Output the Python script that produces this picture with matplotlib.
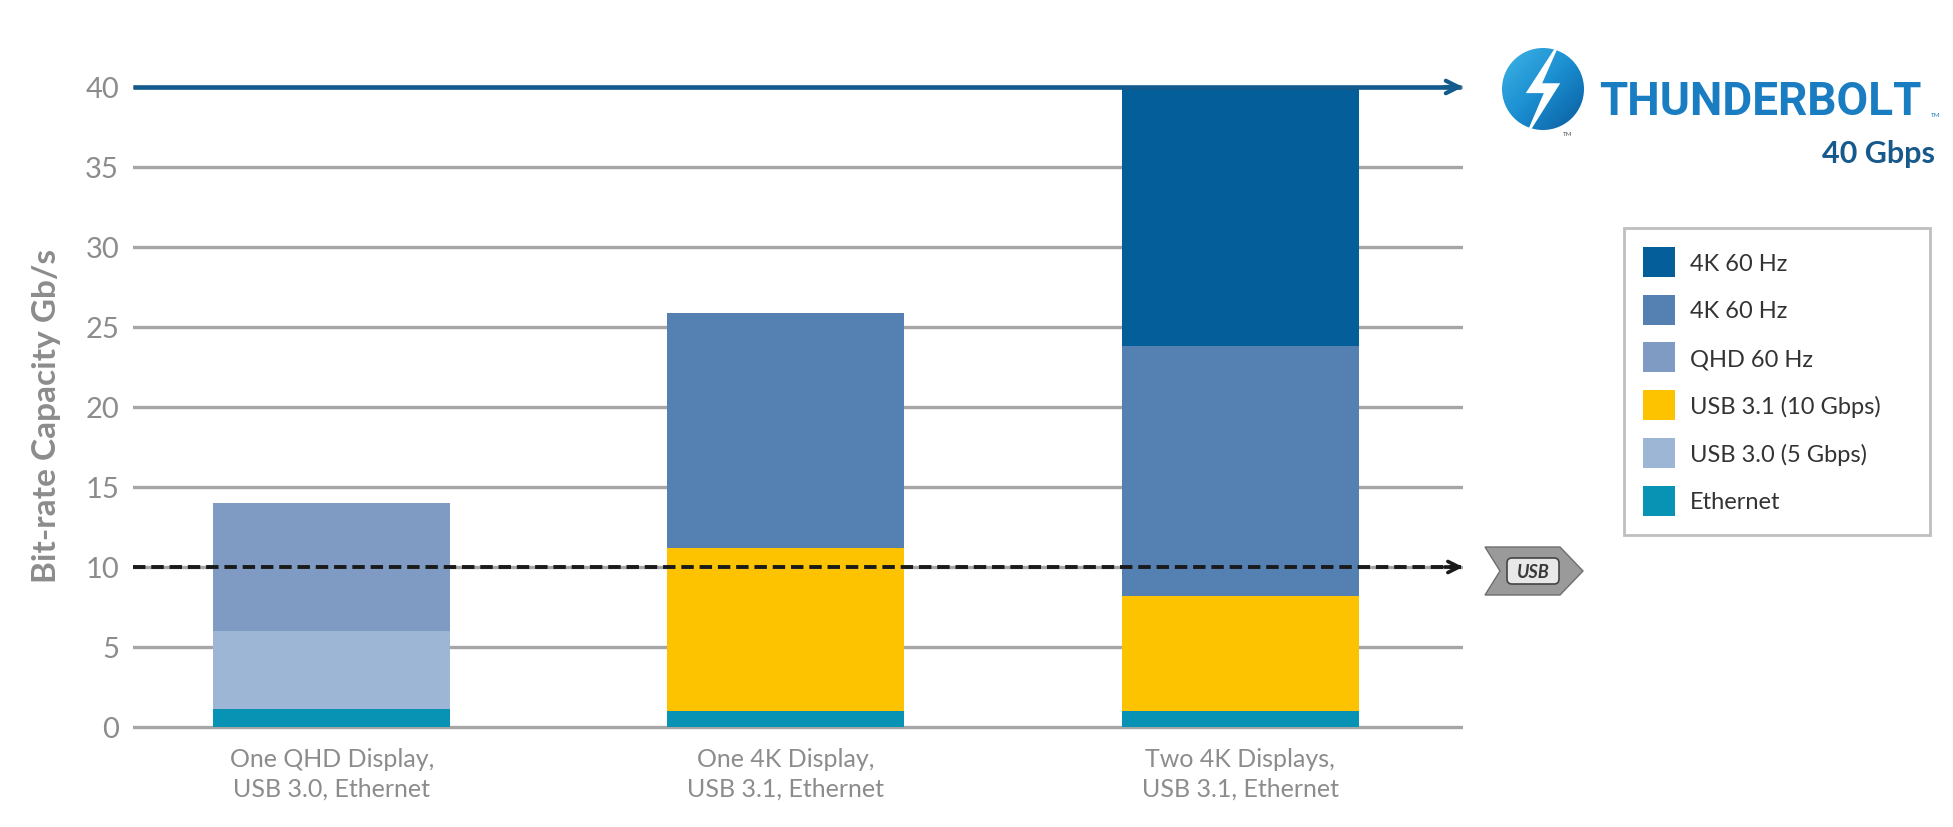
import matplotlib
matplotlib.use('Agg')
import matplotlib.pyplot as plt
import numpy as np
from matplotlib.patches import Circle, Polygon, FancyBboxPatch
from matplotlib.colors import LinearSegmentedColormap
from matplotlib import font_manager

# ---------------- data ----------------
categories = ["One QHD Display,\nUSB 3.0, Ethernet",
              "One 4K Display,\nUSB 3.1, Ethernet",
              "Two 4K Displays,\nUSB 3.1, Ethernet"]
ethernet = [1.1, 1.0, 1.0]
usb30 = [4.9, 0.0, 0.0]
usb31 = [0.0, 10.2, 7.2]
qhd60 = [8.0, 0.0, 0.0]
k4_mid = [0.0, 14.7, 15.6]
k4_dark = [0.0, 0.0, 16.2]
series_labels = ["Ethernet", "USB 3.0 (5 Gbps)", "USB 3.1 (10 Gbps)",
                 "QHD 60 Hz", "4K 60 Hz", "4K 60 Hz"]
thunderbolt_limit = 40
usb_limit = 10
yticks = [0, 5, 10, 15, 20, 25, 30, 35, 40]

colors = ["#0893b4", "#9eb6d5", "#fdc300", "#7f9bc4", "#5580b2", "#035e9a"]

W, H = 1953, 828
fig = plt.figure(figsize=(W / 100, H / 100), dpi=100)
fig.patch.set_facecolor('white')

FONT = ['Lato', 'DejaVu Sans']
plt.rcParams['font.family'] = FONT

ax = fig.add_axes([133 / W, 1 - 744 / H, (1463 - 133) / W, (744 - 72) / H])
ax.set_xlim(-0.438, 2.491)
ax.set_ylim(-1, 41)
for s in ax.spines.values():
    s.set_visible(False)

x = np.arange(len(categories))
width = 0.522
stack = [ethernet, usb30, usb31, qhd60, k4_mid, k4_dark]
bottom = np.zeros(len(categories))
handles = []
for vals, col, lab in zip(stack, colors, series_labels):
    b = ax.bar(x, vals, width, bottom=bottom, color=col, label=lab,
               linewidth=0, zorder=2)
    handles.append(b)
    bottom += np.array(vals)

ax.set_yticks(yticks)
ax.yaxis.grid(True, color='#a6a6a6', linewidth=2.4, zorder=0)
ax.set_axisbelow(True)
ax.tick_params(axis='y', length=0, pad=10, labelsize=21, labelcolor='#8c8c8c')
ax.set_xticks(x)
ax.set_xticklabels(categories, fontsize=18, color='#8c8c8c', linespacing=1.35)
ax.tick_params(axis='x', length=0, pad=3)

xl0, xl1 = ax.get_xlim()
blue = '#135b8c'
ax.plot([xl0, xl1 - 0.005], [thunderbolt_limit] * 2, color=blue, lw=3.3,
        solid_capstyle='butt', zorder=5, clip_on=False)
ax.annotate('', xy=(xl1, thunderbolt_limit), xytext=(xl1 - 0.04, thunderbolt_limit),
            arrowprops=dict(arrowstyle='->,head_length=0.9,head_width=0.45',
                            color=blue, lw=3.0, shrinkA=0, shrinkB=0),
            annotation_clip=False, zorder=6)
ax.plot([xl0, xl1 - 0.005], [usb_limit] * 2, color='#1a1a1a', lw=2.8,
        dashes=(3.2, 1.5), zorder=5, clip_on=False)
ax.annotate('', xy=(xl1, usb_limit), xytext=(xl1 - 0.04, usb_limit),
            arrowprops=dict(arrowstyle='->,head_length=0.8,head_width=0.4',
                            color='#1a1a1a', lw=2.6, shrinkA=0, shrinkB=0),
            annotation_clip=False, zorder=6)

fig.text(47 / W, 1 - 416 / H, "Bit-rate Capacity Gb/s", rotation=90,
         ha='center', va='center', fontsize=24, fontweight='bold',
         color='#8c8c8c')

# legend
order = [5, 4, 3, 2, 1, 0]
leg_fs = 17
leg = ax.legend([handles[i] for i in order], [series_labels[i] for i in order],
                loc='upper left',
                bbox_to_anchor=(1624 / W, 1 - 537 / H, (1930 - 1624) / W, (537 - 229) / H),
                bbox_transform=fig.transFigure, mode='expand', borderaxespad=0,
                fontsize=leg_fs, handlelength=1.36, handleheight=1.58,
                labelspacing=0.75, handletextpad=0.62, borderpad=0.8,
                fancybox=False, framealpha=1, edgecolor='#bfbfbf')
leg.get_frame().set_linewidth(2)
for t in leg.get_texts():
    t.set_color('#333333')

# ---------------- overlay for logos ----------------
ov = fig.add_axes([0, 0, 1, 1], zorder=10)
ov.set_xlim(0, W)
ov.set_ylim(H, 0)
ov.axis('off')
ov.patch.set_alpha(0)

cx, cy, r = 1543, 90, 41
circ = Circle((cx, cy), r, transform=ov.transData, facecolor='none', edgecolor='none')
ov.add_patch(circ)
gx, gy = np.meshgrid(np.linspace(0, 1, 64), np.linspace(0, 1, 64))
grad = gx * 0.5 + gy * 0.5
cmap = LinearSegmentedColormap.from_list('tb', ['#3fb3e6', '#1a8ed0', '#0a5c9e'])
im = ov.imshow(grad, cmap=cmap, extent=(cx - r, cx + r, cy + r, cy - r),
               interpolation='bilinear', zorder=1)
im.set_clip_path(circ)
bolt = np.array([(0.5, -1.32), (-0.42, 0.1), (0.02, 0.1), (-0.5, 1.32),
                 (0.42, -0.14), (-0.02, -0.14)])
ov.add_patch(Polygon(np.column_stack([cx + bolt[:, 0] * r, cy + bolt[:, 1] * r]),
                     closed=True, facecolor='white', edgecolor='none', zorder=2))
ov.text(1563, 134, "TM", fontsize=4.5, color='#555555', ha='left', va='center')

tb_fonts = [f.name for f in font_manager.fontManager.ttflist]
if 'Liberation Sans Narrow' in tb_fonts:
    tb_family, tb_size = ['Liberation Sans Narrow', 'DejaVu Sans'], 37
else:
    tb_family, tb_size = ['Roboto', 'DejaVu Sans'], 33
ov.text(1599, 115, "THUNDERBOLT", family=tb_family, fontsize=tb_size,
        fontweight='bold', color='#1a7cc1', ha='left', va='baseline')
ov.text(1931, 117, "TM", fontsize=4.5, color='#1a7cc1', ha='left', va='baseline')
ov.text(1935, 163, "40 Gbps", fontsize=22, fontweight='bold', color='#18598c',
        ha='right', va='baseline')

# USB badge
ov.add_patch(Polygon([(1485, 548), (1560, 548), (1583, 572), (1560, 596), (1485, 596),
                      (1500, 572)], closed=True, facecolor='#9a9a9a',
                     edgecolor='#6e6e6e', lw=1, zorder=1))
ov.add_patch(FancyBboxPatch((1508, 560), 50, 24, boxstyle='round,pad=1,rounding_size=5',
                            facecolor='#e8e8e8', edgecolor='#444444', lw=1.2, zorder=2))
ov.text(1533, 573, "USB", fontsize=13, fontweight='bold', style='italic',
        color='#3a3a3a', ha='center', va='center', zorder=3)

fig.savefig('out.png', dpi=100, facecolor='white')
